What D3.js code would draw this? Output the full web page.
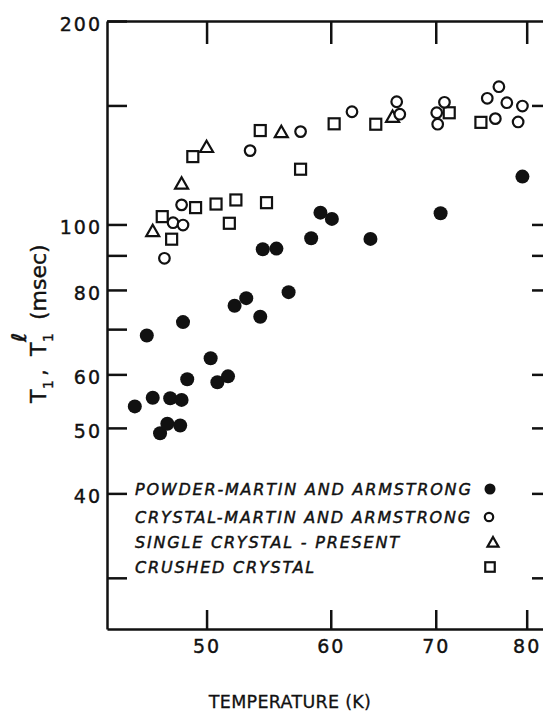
<!DOCTYPE html>
<html>
<head>
<meta charset="utf-8">
<script src="https://cdn.jsdelivr.net/npm/d3@7"></script>
<style>
  body { margin: 0; background: #fff; }
  svg { display: block; }
</style>
</head>
<body>
<div id="chart"></div>
<script>
// T1 vs temperature (log-log axes)
let powderT  = [45.0, 45.8, 46.2, 46.7, 47.2, 47.4, 48.2, 48.1, 48.3, 48.6, 50.3, 50.8, 51.6, 52.1, 53.0, 54.1, 56.4, 54.3, 55.4, 58.3, 59.1, 60.1, 63.6, 70.5, 79.5];
let powderV  = [53.8, 68.5, 55.4, 49.1, 50.7, 55.3, 55.0, 50.4, 71.7, 59.0, 63.4, 58.4, 59.6, 75.8, 77.8, 73.0, 79.4, 91.9, 92.1, 95.4, 104.1, 101.9, 95.2, 103.9, 117.7];
let crystalT = [47.0, 47.6, 48.3, 48.2, 53.3, 57.4, 61.9, 66.1, 66.4, 70.1, 70.9, 70.2, 75.5, 76.8, 77.7, 76.4, 79.5, 79.0];
let crystalV = [89.1, 100.6, 99.8, 106.9, 128.6, 137.2, 146.8, 151.9, 145.6, 146.3, 151.6, 140.7, 153.7, 159.9, 151.4, 143.4, 149.7, 141.8];
let singleT  = [46.2, 48.2, 50.0, 55.8, 65.7];
let singleV  = [97.9, 115.1, 130.4, 137.2, 144.5];
let crushedT = [46.85, 47.5, 49.0, 49.2, 50.7, 52.2, 51.7, 54.1, 57.4, 54.6, 60.3, 64.1, 71.4, 74.8];
let crushedV = [102.7, 95.1, 126.0, 105.9, 107.2, 108.7, 100.4, 137.7, 120.7, 107.7, 140.9, 140.7, 146.3, 141.6];

let xTicks = [50, 60, 70, 80];
let yTicks = [200, 150, 100, 90, 80, 70, 60, 50, 40, 30];
let yLabels = [200, 100, 80, 60, 50, 40];
let yTicksRight = [150, 100, 90, 80, 60, 50, 40, 30];
let legendLabels = ["POWDER-MARTIN AND ARMSTRONG", "CRYSTAL-MARTIN AND ARMSTRONG", "SINGLE CRYSTAL - PRESENT", "CRUSHED CRYSTAL"];
let legendShapes = ["dot", "circle", "triangle", "square"];

const W = 543, H = 725;
const plotL = 107, plotR = 546, plotT = 21, plotB = 629;
const ink = "#111";

let svg = d3.select("#chart").append("svg")
  .attr("width", W)
  .attr("height", H);

let x = d3.scaleLog().domain([43.2, 82.3]).range([plotL, plotR]);
let y = d3.scaleLog().domain([25.2, 200]).range([plotB, plotT]);

function styleAxis(g){
  g.select(".domain").attr("stroke", ink).attr("stroke-width", 2.5);
  g.selectAll(".tick line").attr("stroke", ink).attr("stroke-width", 2.5);
  g.selectAll(".tick text")
    .attr("fill", ink)
    .attr("stroke", ink)
    .attr("stroke-width", 0.4)
    .style("font-family", "'DejaVu Sans', sans-serif")
    .style("font-size", "19px")
    .style("letter-spacing", "2px");
}

// left axis
svg.append("g")
  .attr("transform", `translate(${plotL},0)`)
  .call(d3.axisLeft(y).tickValues(yTicks).tickSize(-20).tickSizeOuter(0).tickPadding(5)
    .tickFormat(d => yLabels.includes(d) ? d : ""))
  .call(styleAxis)
  .call(g => g.selectAll(".tick text").attr("dy", "0.48em"));

// right axis (frame edge falls just past the picture)
svg.append("g")
  .attr("transform", `translate(${plotR},0)`)
  .call(d3.axisRight(y).tickValues(yTicksRight).tickSize(-14).tickSizeOuter(0).tickFormat(""))
  .call(styleAxis);

// bottom axis
svg.append("g")
  .attr("transform", `translate(0,${plotB})`)
  .call(d3.axisBottom(x).tickValues(xTicks).tickSize(-19).tickSizeOuter(0).tickPadding(11)
    .tickFormat(d3.format("d")))
  .call(styleAxis);

// top axis
svg.append("g")
  .attr("transform", `translate(0,${plotT})`)
  .call(d3.axisTop(x).tickValues(xTicks).tickSize(-23).tickSizeOuter(0).tickFormat(""))
  .call(styleAxis);

// markers
let tri = s => `M0,${-s*0.45}L${s/2},${s*0.42}L${-s/2},${s*0.42}Z`;

function drawMarker(g, shape, big){
  if(shape == "dot"){
    g.append("circle").attr("r", big ? 7 : 5.5).attr("fill", ink);
  } else if(shape == "circle"){
    g.append("circle").attr("r", big ? 5.3 : 4.2)
      .attr("fill", "#fff").attr("stroke", ink).attr("stroke-width", 2.2);
  } else if(shape == "triangle"){
    g.append("path").attr("d", tri(big ? 13 : 11))
      .attr("fill", "#fff").attr("stroke", ink).attr("stroke-width", 2.2)
      .attr("stroke-linejoin", "miter");
  } else {
    let s = big ? 11 : 9.5;
    g.append("rect").attr("x", -s/2).attr("y", -s/2).attr("width", s).attr("height", s)
      .attr("fill", "#fff").attr("stroke", ink).attr("stroke-width", 2.2);
  }
}

let series = [
  {t: crushedT, v: crushedV, shape: "square"},
  {t: singleT,  v: singleV,  shape: "triangle"},
  {t: crystalT, v: crystalV, shape: "circle"},
  {t: powderT,  v: powderV,  shape: "dot"}
];

series.forEach(function(s){
  svg.append("g")
    .selectAll("g")
    .data(d3.zip(s.t, s.v))
    .join("g")
    .attr("transform", d => `translate(${x(d[0])},${y(d[1])})`)
    .each(function(){ drawMarker(d3.select(this), s.shape, true); });
});

// legend
let legend = svg.append("g")
  .selectAll("g")
  .data(legendLabels)
  .join("g")
  .attr("transform", (d, i) => `translate(0,${[495, 523, 548, 573][i]})`);

legend.append("text")
  .attr("x", 135)
  .attr("fill", ink)
  .attr("stroke", ink)
  .attr("stroke-width", 0.45)
  .style("font-family", "'DejaVu Sans', sans-serif")
  .style("font-style", "italic")
  .style("font-size", "16px")
  .style("letter-spacing", "1.8px")
  .text(d => d);

legend.append("g")
  .attr("transform", (d, i) => `translate(${[490, 489, 493, 490][i]},-6)`)
  .each(function(d, i){ drawMarker(d3.select(this), legendShapes[i], false); });

// axis titles
svg.append("text")
  .attr("x", 290)
  .attr("y", 708)
  .attr("text-anchor", "middle")
  .attr("fill", ink)
  .attr("stroke", ink)
  .attr("stroke-width", 0.3)
  .style("font-family", "'DejaVu Sans', sans-serif")
  .style("font-size", "17.5px")
  .style("letter-spacing", "0.3px")
  .text("TEMPERATURE (K)");

let ytitle = svg.append("text")
  .attr("transform", "translate(46,403) rotate(-90)")
  .attr("fill", ink)
  .attr("stroke", ink)
  .attr("stroke-width", 0.4)
  .style("font-family", "'DejaVu Sans', sans-serif")
  .style("font-size", "22px");
ytitle.append("tspan").attr("x", 0).attr("y", 0).text("T");
ytitle.append("tspan").attr("x", 14).attr("y", 7).style("font-size", "14px").text("1");
ytitle.append("tspan").attr("x", 27).attr("y", 0).text(",");
ytitle.append("tspan").attr("x", 47).attr("y", 0).text("T");
ytitle.append("tspan").attr("x", 61).attr("y", 7).style("font-size", "14px").text("1");
ytitle.append("tspan").attr("x", 61).attr("y", -20).style("font-size", "20px")
  .style("font-style", "italic").style("font-weight", "bold").text("ℓ");
ytitle.append("tspan").attr("x", 83).attr("y", 0).text("(msec)");
</script>
</body>
</html>
